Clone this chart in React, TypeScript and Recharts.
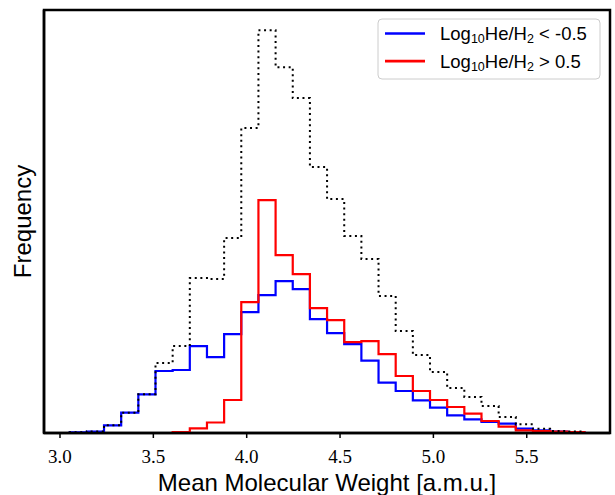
import React from 'react';
import { ComposedChart, Line, XAxis, YAxis, Legend, ReferenceArea } from 'recharts';

// Histogram bin edges (31 edges -> 30 bins)
const binEdges = [
  3.052, 3.1439, 3.2358, 3.3277, 3.4196, 3.5115, 3.6034, 3.6953, 3.7872, 3.8791,
  3.971, 4.0629, 4.1548, 4.2467, 4.3386, 4.4305, 4.5224, 4.6143, 4.7062, 4.7981,
  4.89, 4.9819, 5.0738, 5.1657, 5.2576, 5.3495, 5.4414, 5.5333, 5.6252, 5.7171,
  5.809,
];

// All models (black dotted)
const totalCounts = [
  0.7, 1.5, 7.7, 20.3, 38.7, 70, 87, 155, 154, 195,
  305, 403, 366, 335, 266, 234, 197, 174, 137, 102,
  78, 61, 45, 36, 27, 16, 8.7, 4.3, 2, 1.5,
];

// Log10 He/H2 < -0.5 (blue)
const lowHeCounts = [
  0.7, 1.3, 7.7, 20.3, 38.7, 62, 63, 87, 76, 99,
  121, 138, 152, 144, 114, 100, 89, 72.5, 50.3, 42,
  32.7, 25.3, 17.7, 13.7, 11, 9.3, 4.3, 2.7, 1.5, 1,
];

// Log10 He/H2 > 0.5 (red)
const highHeCounts = [
  0, 0, 0, 0, 0, 0, 1, 4.7, 10.5, 33,
  131, 233, 178, 159, 125, 113, 91, 92, 79, 57,
  42, 33, 26, 19.3, 12, 6.3, 2.7, 2, 1.5, 1,
];

const xTicks = [3.0, 3.5, 4.0, 4.5, 5.0, 5.5];
const xDomain: [number, number] = [2.9143, 5.946];
const yDomain: [number, number] = [0, 423.15];

type Seg = { t: string; sub?: boolean };
const legendLabels: Record<string, Seg[]> = {
  low: [{ t: 'Log' }, { t: '10', sub: true }, { t: 'He/H' }, { t: '2', sub: true }, { t: ' < -0.5' }],
  high: [{ t: 'Log' }, { t: '10', sub: true }, { t: 'He/H' }, { t: '2', sub: true }, { t: ' > 0.5' }],
};

function buildRows() {
  const n = totalCounts.length;
  const rows: { x: number; total: number; low: number; high: number }[] = [];
  rows.push({ x: binEdges[0], total: 0, low: 0, high: 0 });
  for (let i = 0; i < n; i++) {
    rows.push({ x: binEdges[i], total: totalCounts[i], low: lowHeCounts[i], high: highHeCounts[i] });
  }
  rows.push({ x: binEdges[n], total: totalCounts[n - 1], low: lowHeCounts[n - 1], high: highHeCounts[n - 1] });
  rows.push({ x: binEdges[n], total: 0, low: 0, high: 0 });
  return rows;
}

const rows = buildRows();

const renderLegend = (props: any) => {
  const payload = (props.payload || []).filter((p: any) => legendLabels[p.dataKey]);
  return (
    <svg width={226} height={64} style={{ display: 'block' }}>
      <rect x={1} y={1} width={222} height={60} rx={4} ry={4} fill="rgba(255,255,255,0.8)" stroke="#cccccc" strokeWidth={1} />
      {payload.map((p: any, i: number) => {
        const cy = 15.5 + i * 27.6;
        const segs = legendLabels[p.dataKey];
        return (
          <g key={p.dataKey}>
            <line x1={8} x2={48} y1={cy} y2={cy} stroke={p.color} strokeWidth={2.6} />
            <text x={63} y={cy + 6.8} fontFamily="'Liberation Sans', Arial, sans-serif" fontSize={18.5} fill="#000">
              {segs.map((s, k) => {
                const prevSub = k > 0 && segs[k - 1].sub;
                const dy = s.sub ? 3 : prevSub ? -3 : 0;
                return (
                  <tspan key={k} dy={dy} fontSize={s.sub ? 12.5 : 18.5} xmlSpace="preserve">
                    {s.t}
                  </tspan>
                );
              })}
            </text>
          </g>
        );
      })}
    </svg>
  );
};

const renderXLabel = (props: any) => {
  const vb = props.viewBox || {};
  return (
    <text
      x={vb.x + vb.width / 2}
      y={vb.y + 58}
      textAnchor="middle"
      fontFamily="'Liberation Sans', Arial, sans-serif"
      fontSize={24}
      fill="#000"
    >
      Mean Molecular Weight [a.m.u.]
    </text>
  );
};

const renderYLabel = (props: any) => {
  const vb = props.viewBox || {};
  const x = vb.x + 31;
  const y = vb.y + vb.height / 2;
  return (
    <text
      x={x}
      y={y}
      transform={`rotate(-90, ${x}, ${y})`}
      textAnchor="middle"
      fontFamily="'Liberation Sans', Arial, sans-serif"
      fontSize={24}
      fill="#000"
    >
      Frequency
    </text>
  );
};

export default function App() {
  return (
    <div style={{ position: 'absolute', left: 0, top: 0, background: '#fff' }}>
      <ComposedChart width={615} height={495} data={rows} margin={{ top: 10, right: 5, bottom: 0, left: 0 }}>
        <XAxis
          dataKey="x"
          type="number"
          domain={xDomain}
          ticks={xTicks}
          allowDataOverflow
          height={62}
          tickSize={5}
          tickMargin={12}
          tickFormatter={(v: number) => v.toFixed(1)}
          tick={{ fontFamily: "'Liberation Serif', 'Times New Roman', serif", fontSize: 19, fill: '#000' }}
          tickLine={{ stroke: '#000', strokeWidth: 1.5 }}
          axisLine={{ stroke: '#000', strokeWidth: 2.5 }}
          label={{ value: 'Mean Molecular Weight [a.m.u.]', content: renderXLabel }}
        />
        <YAxis
          type="number"
          domain={yDomain}
          allowDataOverflow
          width={44}
          tick={false}
          tickLine={false}
          axisLine={{ stroke: '#000', strokeWidth: 2.5 }}
          label={{ value: 'Frequency', content: renderYLabel }}
        />
        <ReferenceArea
          x1={xDomain[0]}
          x2={xDomain[1]}
          y1={yDomain[0]}
          y2={yDomain[1]}
          fill="none"
          fillOpacity={0}
          stroke="#000"
          strokeWidth={2.5}
          ifOverflow="visible"
        />
        <Legend
          layout="vertical"
          align="center"
          verticalAlign="middle"
          content={renderLegend}
          wrapperStyle={{ left: 377, top: 18, width: 226, height: 64 }}
        />
        <Line
          type="stepAfter"
          dataKey="low"
          name="Log10He/H2 < -0.5"
          stroke="#0000ff"
          strokeWidth={2.2}
          dot={false}
          activeDot={false}
          isAnimationActive={false}
        />
        <Line
          type="stepAfter"
          dataKey="high"
          name="Log10He/H2 > 0.5"
          stroke="#ff0000"
          strokeWidth={2.2}
          dot={false}
          activeDot={false}
          isAnimationActive={false}
        />
        <Line
          type="stepAfter"
          dataKey="total"
          name="All"
          legendType="none"
          stroke="#000"
          strokeWidth={2}
          strokeDasharray="2 3.6"
          dot={false}
          activeDot={false}
          isAnimationActive={false}
        />
      </ComposedChart>
    </div>
  );
}
